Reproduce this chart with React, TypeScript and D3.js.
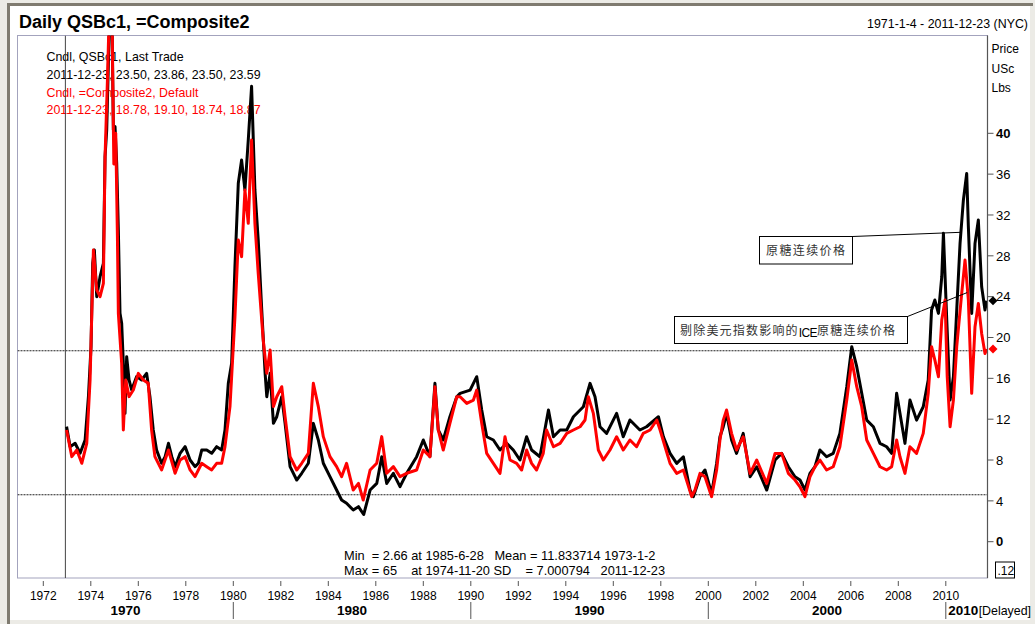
import React from "react";
import * as d3 from "d3";

// ---- data: [decimal year, price (USc/lb)] ----
const qsbc1: [number, number][] = [
  [1972.98, 11.27], [1973.13, 9.31], [1973.34, 9.64], [1973.55, 8.66], [1973.76, 9.96], [1973.9, 14.21],
  [1974.01, 19.11], [1974.08, 27.27], [1974.15, 28.57], [1974.25, 24.0], [1974.39, 25.96], [1974.53, 27.27],
  [1974.6, 37.71], [1974.67, 40.33], [1974.74, 46.85], [1974.8, 52], [1974.85, 62], [1974.9, 50],
  [1974.95, 40.33], [1975.02, 40.65], [1975.09, 37.06], [1975.16, 30.53], [1975.23, 22.37], [1975.3, 21.39],
  [1975.37, 17.47], [1975.44, 12.57], [1975.51, 18.12], [1975.61, 15.84], [1975.72, 14.86], [1975.93, 16.17],
  [1976.14, 15.84], [1976.35, 16.49], [1976.49, 14.21], [1976.63, 10.94], [1976.77, 8.98], [1976.98, 7.68],
  [1977.13, 8.33], [1977.27, 9.64], [1977.41, 8.33], [1977.55, 7.35], [1977.76, 8.66], [1977.97, 9.31],
  [1978.18, 8.0], [1978.39, 7.35], [1978.53, 7.68], [1978.67, 8.98], [1978.88, 8.98], [1979.09, 8.66],
  [1979.3, 9.31], [1979.51, 8.98], [1979.65, 10.94], [1979.79, 15.51], [1979.93, 17.47], [1980.07, 27.0],
  [1980.21, 35.1], [1980.35, 37.38], [1980.49, 34.45], [1980.63, 39.34], [1980.77, 44.6], [1980.91, 34.45],
  [1981.05, 29.55], [1981.19, 23.02], [1981.34, 16.49], [1981.41, 14.2], [1981.55, 16.49], [1981.69, 11.59],
  [1981.83, 12.24], [1982.04, 14.2], [1982.18, 11.59], [1982.39, 7.35], [1982.67, 6.04], [1982.88, 6.7],
  [1983.16, 7.68], [1983.37, 11.59], [1983.58, 9.96], [1983.79, 7.68], [1984.07, 6.37], [1984.35, 5.06],
  [1984.56, 4.08], [1984.77, 3.76], [1985.05, 3.1], [1985.27, 3.43], [1985.49, 2.66], [1985.76, 5.06],
  [1986.04, 5.71], [1986.25, 8.33], [1986.46, 5.71], [1986.74, 6.7], [1987.02, 5.39], [1987.3, 6.7],
  [1987.72, 8.33], [1988.0, 9.96], [1988.28, 8.33], [1988.49, 15.51], [1988.63, 10.94], [1988.84, 9.96],
  [1989.12, 12.24], [1989.41, 14.2], [1989.55, 14.53], [1989.97, 14.85], [1990.25, 16.16], [1990.46, 12.9],
  [1990.67, 10.28], [1990.95, 9.96], [1991.23, 8.98], [1991.51, 9.63], [1991.79, 8.98], [1992.07, 8.0],
  [1992.35, 10.28], [1992.56, 8.98], [1992.91, 8.32], [1993.27, 12.9], [1993.48, 10.28], [1993.76, 10.94],
  [1994.04, 10.94], [1994.32, 12.24], [1994.74, 13.22], [1995.02, 15.51], [1995.23, 14.2], [1995.44, 11.26],
  [1995.72, 10.61], [1996.14, 12.57], [1996.42, 10.28], [1996.7, 11.92], [1997.12, 10.94], [1997.4, 11.26],
  [1997.9, 12.24], [1998.11, 10.28], [1998.39, 8.65], [1998.67, 7.67], [1998.95, 8.32], [1999.23, 5.06],
  [1999.37, 4.41], [1999.65, 6.37], [1999.86, 7.02], [2000.14, 4.73], [2000.35, 7.67], [2000.49, 10.28],
  [2000.63, 11.26], [2000.77, 12.57], [2000.98, 9.96], [2001.19, 8.65], [2001.47, 10.61], [2001.76, 6.36],
  [2002.04, 7.34], [2002.46, 5.06], [2002.81, 8.0], [2003.09, 8.65], [2003.37, 7.34], [2003.65, 6.36],
  [2003.86, 6.04], [2004.07, 5.06], [2004.28, 6.69], [2004.49, 7.34], [2004.7, 8.98], [2004.98, 8.32],
  [2005.26, 8.65], [2005.54, 10.61], [2005.83, 15.18], [2006.04, 19.1], [2006.25, 17.14], [2006.46, 14.53],
  [2006.67, 11.91], [2006.95, 11.26], [2007.23, 9.63], [2007.51, 9.3], [2007.72, 8.65], [2007.93, 14.53],
  [2008.07, 12.57], [2008.28, 9.63], [2008.49, 13.87], [2008.77, 11.91], [2009.05, 13.22], [2009.26, 15.83],
  [2009.4, 22.69], [2009.54, 23.67], [2009.69, 22.36], [2009.83, 25.95], [2009.9, 30.2], [2010.04, 21.71],
  [2010.18, 13.87], [2010.32, 16.16], [2010.46, 22.69], [2010.6, 29.22], [2010.74, 33.46], [2010.88, 36.07],
  [2010.95, 30.85], [2011.09, 22.36], [2011.23, 29.22], [2011.37, 31.5], [2011.51, 24.97], [2011.65, 22.69],
  [2011.72, 23.59],
];

const composite2: [number, number][] = [
  [1972.98, 10.94], [1973.2, 8.33], [1973.41, 8.98], [1973.62, 7.68], [1973.83, 9.64], [1973.97, 15.84],
  [1974.11, 28.57], [1974.25, 24.65], [1974.39, 24.0], [1974.53, 25.31], [1974.6, 37.71], [1974.7, 45.2],
  [1974.78, 52], [1974.86, 60], [1974.92, 46], [1974.97, 37], [1975.05, 40], [1975.12, 30],
  [1975.16, 22.37], [1975.3, 17.47], [1975.37, 10.94], [1975.47, 15.84], [1975.61, 14.21], [1975.79, 14.86],
  [1976.0, 16.49], [1976.21, 15.84], [1976.42, 15.51], [1976.56, 10.94], [1976.7, 8.33], [1976.98, 7.03],
  [1977.27, 8.98], [1977.55, 6.7], [1977.76, 8.0], [1977.97, 8.33], [1978.18, 7.03], [1978.39, 6.37],
  [1978.67, 7.68], [1978.88, 7.35], [1979.09, 7.03], [1979.3, 7.68], [1979.51, 7.68], [1979.65, 9.31],
  [1979.86, 13.23], [1980.07, 22.04], [1980.21, 29.55], [1980.35, 27.92], [1980.49, 34.45], [1980.63, 31.18],
  [1980.77, 39.34], [1980.91, 31.18], [1981.05, 26.28], [1981.26, 19.75], [1981.41, 16.49], [1981.55, 18.77],
  [1981.69, 13.23], [1981.83, 14.2], [1982.04, 15.18], [1982.18, 12.24], [1982.39, 8.33], [1982.67, 7.02],
  [1982.88, 7.68], [1983.16, 8.65], [1983.37, 15.51], [1983.58, 13.23], [1983.79, 10.29], [1984.07, 8.33],
  [1984.35, 7.35], [1984.56, 6.37], [1984.77, 7.68], [1985.05, 5.06], [1985.27, 5.71], [1985.47, 4.08],
  [1985.76, 7.02], [1986.04, 7.68], [1986.25, 10.29], [1986.46, 6.7], [1986.74, 7.35], [1987.02, 6.37],
  [1987.3, 6.7], [1987.72, 7.02], [1988.0, 8.98], [1988.28, 8.33], [1988.49, 15.18], [1988.63, 10.94],
  [1988.84, 8.98], [1989.12, 11.59], [1989.41, 14.2], [1989.55, 14.2], [1989.83, 13.55], [1990.11, 13.87],
  [1990.25, 14.85], [1990.46, 11.59], [1990.67, 8.65], [1990.95, 7.67], [1991.23, 6.69], [1991.44, 10.28],
  [1991.65, 8.0], [1991.93, 7.67], [1992.14, 7.02], [1992.35, 8.98], [1992.56, 7.67], [1992.77, 7.02],
  [1993.05, 8.65], [1993.19, 10.94], [1993.48, 9.3], [1993.76, 9.63], [1994.04, 10.61], [1994.32, 10.94],
  [1994.6, 11.26], [1994.81, 11.92], [1994.95, 14.2], [1995.16, 12.57], [1995.37, 8.98], [1995.58, 8.0],
  [1995.86, 8.98], [1996.14, 10.28], [1996.42, 8.98], [1996.7, 9.96], [1996.98, 9.3], [1997.26, 10.61],
  [1997.55, 10.94], [1997.83, 11.92], [1997.97, 10.94], [1998.18, 9.3], [1998.39, 7.67], [1998.67, 6.69],
  [1998.95, 7.02], [1999.3, 4.41], [1999.44, 5.06], [1999.65, 6.69], [1999.86, 6.37], [2000.14, 4.41],
  [2000.35, 7.02], [2000.49, 9.96], [2000.63, 11.91], [2000.77, 12.9], [2000.98, 10.61], [2001.19, 8.98],
  [2001.47, 10.28], [2001.76, 6.69], [2002.04, 8.0], [2002.46, 5.71], [2002.81, 8.65], [2003.09, 8.65],
  [2003.37, 6.69], [2003.65, 6.04], [2003.86, 5.38], [2004.07, 4.41], [2004.28, 6.36], [2004.49, 7.34],
  [2004.7, 8.0], [2004.98, 7.02], [2005.26, 7.34], [2005.54, 9.3], [2005.83, 13.87], [2006.04, 17.79],
  [2006.25, 15.18], [2006.46, 13.22], [2006.67, 9.96], [2006.95, 8.65], [2007.23, 7.34], [2007.51, 7.02],
  [2007.72, 7.34], [2007.93, 9.96], [2008.07, 8.32], [2008.28, 6.69], [2008.49, 9.3], [2008.77, 8.65],
  [2009.05, 10.61], [2009.26, 14.53], [2009.4, 19.1], [2009.54, 17.79], [2009.69, 16.16], [2009.83, 21.71],
  [2009.97, 23.67], [2010.06, 16.16], [2010.18, 11.26], [2010.32, 13.87], [2010.46, 19.1], [2010.67, 24.32],
  [2010.81, 27.59], [2010.95, 23.67], [2011.09, 14.53], [2011.23, 21.06], [2011.37, 23.34], [2011.51, 20.4],
  [2011.65, 18.44], [2011.72, 18.87],
];

const lastQSBc1 = 23.59;
const lastComposite = 18.87;
const refLevels = [18.7, 4.6];
const statsStartYear = 1972.93;
const yTicks = [0, 4, 8, 12, 16, 20, 24, 28, 32, 36, 40];
const yearTicks = d3.range(1972, 2011, 2);
const decades = [1970, 1980, 1990, 2000, 2010];

const legendLines = [
  { text: "Cndl, QSBc1, Last Trade", color: "#000" },
  { text: "2011-12-23, 23.50, 23.86, 23.50, 23.59", color: "#000" },
  { text: "Cndl, =Composite2, Default", color: "#ff0000" },
  { text: "2011-12-23, 18.78, 19.10, 18.74, 18.87", color: "#ff0000" },
];

const FONT = "'Liberation Sans', Arial, sans-serif";
const CJK = "'Noto Sans CJK SC', sans-serif";

export default function App() {
  const W = 1035, H = 624;
  const left = 17.5, right = 987.5, top = 35.5, bottom = 578;
  const x = d3.scaleLinear().domain([1972, 2010]).range([43.3, 945.8]);
  const y = d3.scaleLinear().domain([0, 40]).range([541.7, 133.3]);
  const line = d3.line<[number, number]>().x((d) => x(d[0])).y((d) => y(d[1]));

  const sep = decades.slice(1).map((d) => x(d));
  const bounds = [left, ...sep, right];

  const diamond = (cx: number, cy: number, r = 4.5) =>
    `M${cx},${cy - r}L${cx + r},${cy}L${cx},${cy + r}L${cx - r},${cy}Z`;

  return (
    <svg width={W} height={H} style={{ position: "absolute", left: 0, top: 0, display: "block" }} fontFamily={FONT}>
      <defs>
        <clipPath id="plot">
          <rect x={left} y={top} width={right - left} height={bottom - top} />
        </clipPath>
      </defs>
      <rect x={0} y={0} width={W} height={H} fill="#ecebe6" />
      <rect x={10} y={6} width={1020} height={614} fill="#fff" />
      <rect x={7} y={3} width={1026} height={3} fill="#7f7b70" />
      <rect x={7} y={3} width={3} height={621} fill="#7f7b70" />

      {/* title */}
      <text x={19} y={28} fontSize={18} fontWeight="bold" fill="#000">Daily QSBc1, =Composite2</text>
      <text x={1028} y={28} fontSize={12.4} textAnchor="end" fill="#000">1971-1-4 - 2011-12-23 (NYC)</text>

      {/* plot frame */}
      <rect x={left} y={top} width={right - left} height={bottom - top} fill="none" stroke="#a3a3bd" strokeWidth={1} />

      {/* legend text */}
      {legendLines.map((l, i) => (
        <text key={i} x={46.5} y={61 + i * 17.8} fontSize={12.4} fill={l.color}>{l.text}</text>
      ))}

      {/* stats */}
      <text x={344} y={559.5} fontSize={12.8} fill="#000" xmlSpace="preserve">{"Min  = 2.66 at 1985-6-28   Mean = 11.833714 1973-1-2"}</text>
      <text x={344} y={575} fontSize={12.8} fill="#000" xmlSpace="preserve">{"Max = 65    at 1974-11-20 SD    = 7.000794   2011-12-23"}</text>

      <g clipPath="url(#plot)">
        {/* mean ± SD reference lines */}
        {refLevels.map((v, i) => (
          <line key={i} x1={left} x2={right} y1={y(v)} y2={y(v)} stroke="#222" strokeWidth={1.2} strokeDasharray="2 1" />
        ))}
        <line x1={x(statsStartYear)} x2={x(statsStartYear)} y1={top} y2={bottom} stroke="#444" strokeWidth={1} />
        <path d={line(qsbc1) || ""} fill="none" stroke="#000" strokeWidth={3} strokeLinejoin="round" />
        <path d={line(composite2) || ""} fill="none" stroke="#ff0000" strokeWidth={3} strokeLinejoin="round" />
      </g>

      {/* annotations */}
      <line x1={852.5} y1={236.5} x2={x(2010.6)} y2={y(30.3)} stroke="#000" strokeWidth={1} />
      <rect x={759.5} y={236.5} width={93} height={27.5} fill="#fff" stroke="#000" strokeWidth={1} />
      <text x={766} y={255} fontSize={12} fontFamily={CJK} fill="#333" letterSpacing={1.4}>原糖连续价格</text>

      <line x1={907.5} y1={316.5} x2={x(2010.9)} y2={y(24.4)} stroke="#000" strokeWidth={1} />
      <rect x={674.5} y={316.5} width={233} height={27} fill="#fff" stroke="#000" strokeWidth={1} />
      <text x={680} y={335} fontSize={12} fontFamily={CJK} fill="#333" letterSpacing={1.2}>
        剔除美元指数影响的
        <tspan fontFamily={FONT} fontSize={12} letterSpacing={-0.6} dy={2} fill="#000">ICE</tspan>
        <tspan dy={-2}>原糖连续价格</tspan>
      </text>

      {/* right axis */}
      <line x1={right} x2={right} y1={top} y2={bottom} stroke="#555" strokeWidth={1.2} />
      {yTicks.map((t) => (
        <g key={t}>
          <line x1={right} x2={right + 6} y1={y(t)} y2={y(t)} stroke="#555" />
          <text x={right + 8.5} y={y(t) + 4.7} fontSize={13} fontWeight={t === 0 || t === 40 ? "bold" : "normal"} fill="#000">{t}</text>
        </g>
      ))}
      <text x={991.5} y={52.5} fontSize={12} fill="#000">Price</text>
      <text x={991.5} y={72.5} fontSize={12} fill="#000">USc</text>
      <text x={991.5} y={92} fontSize={12} fill="#000">Lbs</text>
      <path d={diamond(993, y(lastQSBc1))} fill="#000" />
      <path d={diamond(993, y(lastComposite))} fill="#ff0000" />
      <rect x={995.5} y={562} width={19} height={16} fill="#fff" stroke="#000" strokeWidth={1} />
      <text x={997.5} y={575} fontSize={12} fill="#000">.12</text>

      {/* bottom axis */}
      {yearTicks.map((t) => (
        <g key={t}>
          <line x1={x(t)} x2={x(t)} y1={bottom + 3} y2={bottom + 8} stroke="#555" />
          <text x={x(t)} y={600} fontSize={12} textAnchor="middle" fill="#000">{t}</text>
        </g>
      ))}
      {sep.map((sx, i) => (
        <line key={i} x1={sx} x2={sx} y1={602} y2={619} stroke="#555" />
      ))}
      {decades.map((d, i) => (
        <text key={d} x={i === decades.length - 1 ? sep[sep.length - 1] + 2.5 : (bounds[i] + bounds[i + 1]) / 2} y={615} fontSize={13.5} fontWeight="bold" textAnchor={i === decades.length - 1 ? "start" : "middle"} fill="#000">{d}</text>
      ))}
      <text x={1031} y={615} fontSize={12.4} textAnchor="end" fill="#000">[Delayed]</text>
    </svg>
  );
}
